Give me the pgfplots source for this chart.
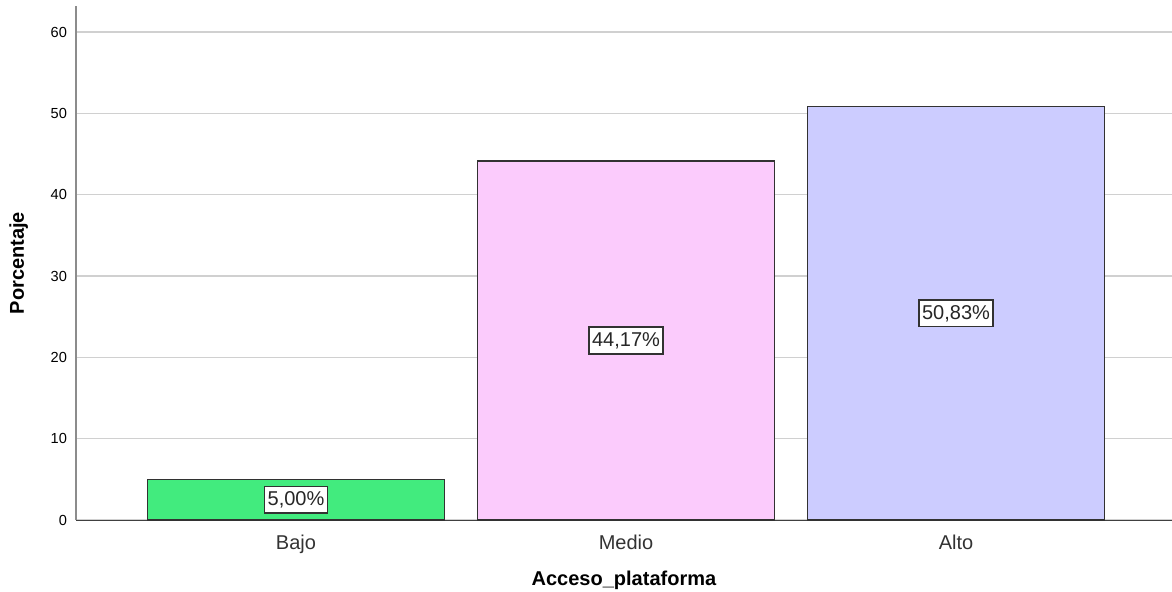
\documentclass[border=0pt]{standalone}
\usepackage{pgfplots}
\pgfplotsset{compat=1.18}
\usepackage{pgfplotstable}
\usepackage{fontspec}
\setmainfont{Liberation Sans}

\definecolor{bajoC}{RGB}{66,235,126}
\definecolor{medioC}{RGB}{251,203,252}
\definecolor{altoC}{RGB}{204,204,255}
\definecolor{edgeC}{RGB}{50,50,50}
\definecolor{gridC}{RGB}{208,208,208}

% Percentages per access level
\pgfplotstableread{
pos pct
0 5.00
1 44.17
2 50.83
}\accesstable

\begin{document}
\begin{tikzpicture}
\begin{axis}[
  scale only axis,
  width=548pt, height=257pt,
  xmin=-0.6667, xmax=2.6545,
  ymin=0, ymax=63.2,
  axis x line=bottom, axis y line=left,
  x axis line style={-, draw=black!75},
  y axis line style={-, draw=black!45, line width=0.8pt},
  xtick={0,1,2},
  xticklabels={Bajo,Medio,Alto},
  ytick={0,10,...,60},
  major tick length=0pt,
  ymajorgrids,
  grid style={draw=gridC, line width=0.6pt},
  /pgf/number format/assume math mode=true,
  yticklabel style={font=\fontsize{7.3}{8}\selectfont, xshift=-1pt},
  xticklabel style={font=\fontsize{10}{12}\selectfont, text=black!80, yshift=-4pt},
  xlabel={\textbf{Acceso\_plataforma}},
  ylabel={\textbf{Porcentaje}},
  xlabel style={font=\fontsize{10}{12}\selectfont, yshift=-2pt},
  ylabel style={font=\fontsize{10}{12}\selectfont, yshift=4.5pt},
  bar width=0.9,
]
\addplot[ybar, fill=bajoC, draw=edgeC, line width=0.8pt,
  skip coords between index={1}{3}] table[x=pos, y=pct] {\accesstable};
\addplot[ybar, fill=medioC, draw=edgeC, line width=0.8pt,
  skip coords between index={0}{1}, skip coords between index={2}{3}]
  table[x=pos, y=pct] {\accesstable};
\addplot[ybar, fill=altoC, draw=edgeC, line width=0.8pt,
  skip coords between index={0}{2}] table[x=pos, y=pct] {\accesstable};
% value boxes at half the bar height
\addplot[draw=none, mark=none, point meta=explicit,
  nodes near coords={\pgfmathprintnumber{\pgfplotspointmeta}\%},
  nodes near coords style={anchor=center, fill=white, draw=edgeC,
    line width=0.7pt, inner xsep=1.6pt, inner ysep=2.6pt, text=black!85,
    font=\fontsize{10}{11}\selectfont,
    /pgf/number format/.cd, fixed, fixed zerofill, precision=2, use comma,
    assume math mode=true}]
  table[x=pos, y expr=\thisrow{pct}/2, meta=pct] {\accesstable};
\end{axis}
\pgfresetboundingbox
\path (-38pt,-35.5pt) rectangle (548pt,260pt);
\end{tikzpicture}
\end{document}
